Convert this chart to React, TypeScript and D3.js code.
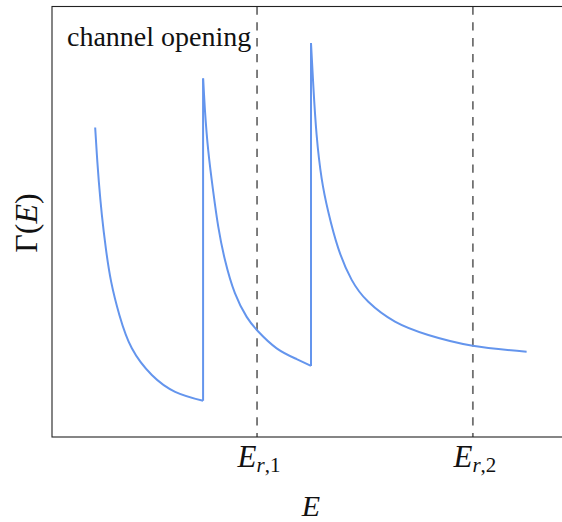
import React from "react";
import * as d3 from "d3";

const W = 562;
const H = 522;

// Γ(E), three branches between channel openings
const seg1E = [0.5, 0.516, 0.534, 0.562, 0.599, 0.648, 0.725, 0.84, 1.025, 1.241, 1.5];
const seg1G = [0.719, 0.655, 0.593, 0.516, 0.438, 0.361, 0.283, 0.206, 0.144, 0.105, 0.084];
const seg2E = [1.5, 1.517, 1.548, 1.594, 1.641, 1.703, 1.795, 1.904, 2.011, 2.182, 2.367, 2.5];
const seg2G = [0.833, 0.76, 0.665, 0.57, 0.488, 0.411, 0.334, 0.279, 0.245, 0.206, 0.181, 0.165];
const seg3E = [2.5, 2.521, 2.552, 2.599, 2.66, 2.753, 2.877, 3.031, 3.278, 3.587, 3.998, 4.498];
const seg3G = [0.915, 0.818, 0.702, 0.6, 0.523, 0.438, 0.365, 0.314, 0.268, 0.237, 0.212, 0.198];

const resonances = [2.0, 4.0];
const resonanceLabels = ["1", "2"];
const xLim = [0.1, 4.9];
const yLim = [0, 1];

const M = { left: 52, top: 6.5, right: 570, bottom: 437 };

export default function App() {
  const x = d3.scaleLinear().domain(xLim).range([M.left, M.right]);
  const y = d3.scaleLinear().domain(yLim).range([M.bottom, M.top]);
  const line = d3
    .line<[number, number]>()
    .x((d) => x(d[0]))
    .y((d) => y(d[1]))
    .curve(d3.curveNatural);

  const segs = [
    [seg1E, seg1G],
    [seg2E, seg2G],
    [seg3E, seg3G],
  ].map(([e, g]) => e.map((v, i) => [v, g[i]] as [number, number]));

  const jumps = [
    [segs[0][segs[0].length - 1], segs[1][0]],
    [segs[1][segs[1].length - 1], segs[2][0]],
  ];

  const font = "'Liberation Serif', 'Times New Roman', serif";
  const blue = "#6495ED";

  return (
    <svg width={W} height={H} style={{ position: "absolute", left: 0, top: 0 }}>
      <rect x={0} y={0} width={W} height={H} fill="#fff" />
      <defs>
        <clipPath id="ax">
          <rect x={M.left} y={M.top} width={M.right - M.left} height={M.bottom - M.top} />
        </clipPath>
      </defs>
      <g clipPath="url(#ax)">
        {resonances.map((r, i) => (
          <line
            key={i}
            x1={x(r)}
            x2={x(r)}
            y1={M.top}
            y2={M.bottom}
            stroke="#707070"
            strokeWidth={1.8}
            strokeDasharray="8.3,7.5"
          />
        ))}
        {segs.map((s, i) => (
          <path key={i} d={line(s) || ""} fill="none" stroke={blue} strokeWidth={2} />
        ))}
        {jumps.map((j, i) => (
          <line
            key={i}
            x1={x(j[0][0])}
            x2={x(j[1][0])}
            y1={y(j[0][1])}
            y2={y(j[1][1])}
            stroke={blue}
            strokeWidth={2}
          />
        ))}
      </g>
      <rect
        x={M.left}
        y={M.top}
        width={M.right - M.left}
        height={M.bottom - M.top}
        fill="none"
        stroke="#222"
        strokeWidth={1.1}
      />
      <text x={67} y={46} fontFamily={font} fontSize={28} fill="#111">
        channel opening
      </text>
      {resonances.map((r, i) => (
        <text key={i} x={x(r) + 2} y={467} fontFamily={font} fontSize={31} textAnchor="middle" fill="#111">
          <tspan fontStyle="italic">E</tspan>
          <tspan fontSize={21} dy={5} fontStyle="italic">r</tspan>
          <tspan fontSize={21}>,{resonanceLabels[i]}</tspan>
        </text>
      ))}
      <text x={(M.left + M.right) / 2} y={516} fontFamily={font} fontSize={30} fontStyle="italic" textAnchor="middle" fill="#111">
        E
      </text>
      <text
        transform={`translate(37,223) rotate(-90)`}
        fontFamily={font}
        fontSize={32}
        textAnchor="middle"
        fill="#111"
      >
        Γ(<tspan fontStyle="italic">E</tspan>)
      </text>
    </svg>
  );
}
